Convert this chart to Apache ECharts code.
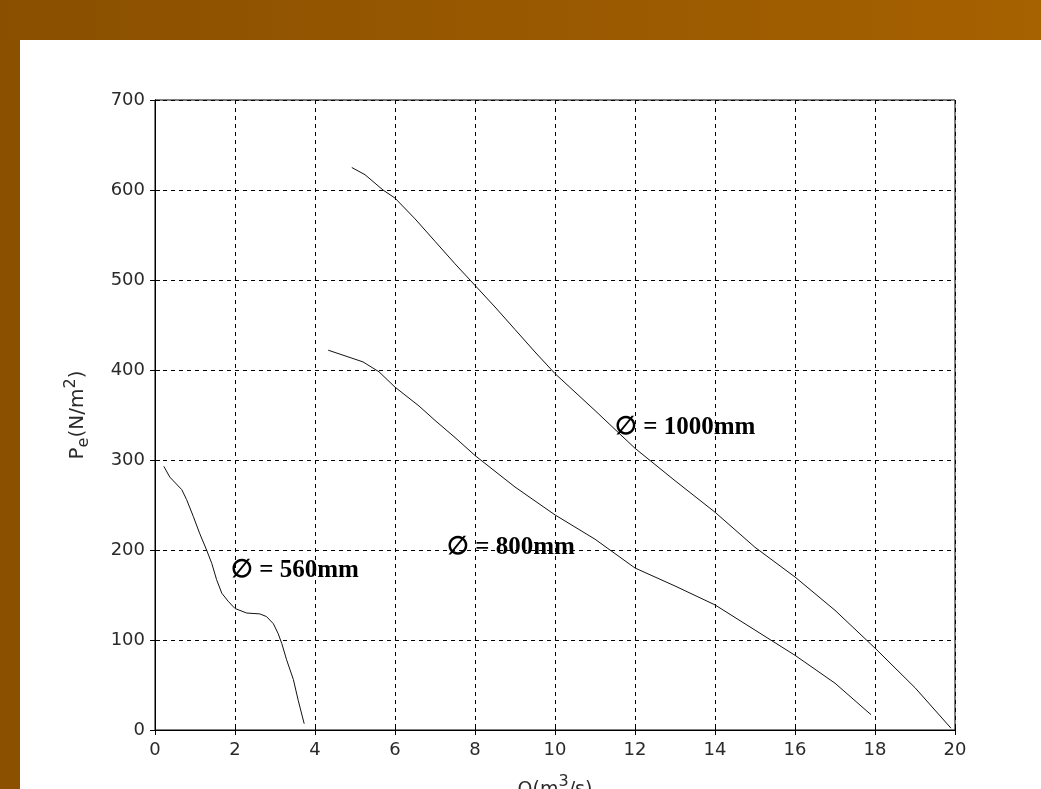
<!DOCTYPE html>
<html>
<head>
<meta charset="utf-8">
<script src="https://cdn.jsdelivr.net/npm/echarts@6/dist/echarts.min.js"></script>
<style>
  html,body{margin:0;padding:0;width:1041px;height:789px;overflow:hidden;background:#fff;}
  #band{position:absolute;left:0;top:0;width:1041px;height:40px;background:linear-gradient(to right,#8a5000,#a66100);}
  #strip{position:absolute;left:0;top:40px;width:20px;height:749px;background:#8b5100;}
  #chart{position:absolute;left:0;top:0;width:1041px;height:789px;}
</style>
</head>
<body>
<div id="band"></div>
<div id="strip"></div>
<div id="chart"></div>
<script>
// Q (m^3/s) and Pe (N/m^2)
const q1000 = [4.92,5.25,5.7,6.0,6.5,7.0,7.5,8.0,8.5,9.0,9.5,10.0,11.0,12.0,13.0,14.0,15.0,16.0,17.0,18.0,19.0,19.9];
const p1000 = [625,617,600,591,568,543,518,494,470,445,420,396,355,313,277,242,203,170,133,91,47,2];

const q800 = [4.33,4.8,5.2,5.6,6.0,6.6,7.0,7.5,8.0,9.0,10.0,11.0,12.0,13.0,14.0,15.0,16.0,17.0,17.9];
const p800 = [422,415,409,398,381,360,344,325,305,270,239,212,180,160,139,111,83,52,17];

const q560 = [0.22,0.37,0.67,0.79,0.96,1.12,1.29,1.42,1.54,1.67,1.83,2.0,2.29,2.62,2.79,2.96,3.08,3.17,3.29,3.46,3.58,3.73];
const p560 = [293,281,267,256,237,218,200,185,167,152,143,135,130,129,126,118,107,96,78,56,33,7];

const xTicks = {min:0, max:20, interval:2};
const yTicks = {min:0, max:700, interval:100};

const labels = [
  {text:'∅ = 1000mm', q:11.5, p:336},
  {text:'∅ = 800mm',  q:7.3, p:203},
  {text:'∅ = 560mm',  q:1.9, p:177}
];

const zip = (a,b)=>a.map((v,i)=>[v,b[i]]);
const lineColor = '#111';

function mk(name, q, p, lab){
  return {
    name, type:'line', data: zip(q,p), showSymbol:false, symbol:'none',
    lineStyle:{color:lineColor, width:1}, silent:true, animation:false,
    markPoint:{
      symbol:'circle', symbolSize:0, silent:true, animation:false,
      data:[{coord:[lab.q, lab.p], value:lab.text}],
      label:{show:true, position:'right', distance:0, formatter:lab.text,
        fontFamily:'Liberation Serif', fontWeight:'bold', fontSize:25, color:'#000'}
    }
  };
}

const chart = echarts.init(document.getElementById('chart'));
const tickFont = {fontFamily:'DejaVu Sans', fontSize:18, color:'#2a2a2a'};
const dashed = {show:true, lineStyle:{color:'#000', type:[4,4], width:1}};
chart.setOption({
  backgroundColor:'transparent',
  animation:false,
  grid:{left:155, right:86, top:100, bottom:59, outerBoundsMode:'none', containLabel:false,
        show:true, borderColor:'#000', borderWidth:1, backgroundColor:'transparent'},
  xAxis:[{
    type:'value', min:xTicks.min, max:xTicks.max, interval:xTicks.interval, position:'bottom',
    axisLine:{show:true, lineStyle:{color:'#000', width:1}},
    axisTick:{show:true, inside:true, length:5, lineStyle:{color:'#000'}},
    axisLabel:{...tickFont, margin:11},
    splitLine:dashed,
    name:'{a|Q(m}{sup|3}{a|/s)}', nameLocation:'middle', nameGap:44,
    nameTextStyle:{rich:{
      a:{fontFamily:'DejaVu Sans', fontSize:19, color:'#2a2a2a'},
      sup:{fontFamily:'DejaVu Sans', fontSize:16, color:'#2a2a2a', padding:[0,0,16,0]}
    }}
  },{
    type:'value', min:xTicks.min, max:xTicks.max, interval:xTicks.interval, position:'top',
    axisLine:{show:true, lineStyle:{color:'#000'}},
    axisTick:{show:true, inside:true, length:5, lineStyle:{color:'#000'}},
    axisLabel:{show:false}, splitLine:{show:false}
  }],
  yAxis:[{
    type:'value', min:yTicks.min, max:yTicks.max, interval:yTicks.interval, position:'left',
    axisLine:{show:true, lineStyle:{color:'#000', width:1}},
    axisTick:{show:true, inside:true, length:5, lineStyle:{color:'#000'}},
    axisLabel:{...tickFont, margin:10},
    splitLine:dashed,
    name:'{a|P}{sub|e}{a|(N/m}{sup|2}{a|)}', nameLocation:'middle', nameGap:62, nameRotate:90,
    nameTextStyle:{rich:{
      a:{fontFamily:'DejaVu Sans', fontSize:20, color:'#2a2a2a'},
      sub:{fontFamily:'DejaVu Sans', fontSize:16, color:'#2a2a2a', padding:[12,0,0,0]},
      sup:{fontFamily:'DejaVu Sans', fontSize:16, color:'#2a2a2a', padding:[0,0,14,0]}
    }}
  },{
    type:'value', min:yTicks.min, max:yTicks.max, interval:yTicks.interval, position:'right',
    axisLine:{show:true, lineStyle:{color:'#000'}},
    axisTick:{show:true, inside:true, length:5, lineStyle:{color:'#000'}},
    axisLabel:{show:false}, splitLine:{show:false}
  }],
  series:[
    mk('1000mm', q1000, p1000, labels[0]),
    mk('800mm', q800, p800, labels[1]),
    mk('560mm', q560, p560, labels[2])
  ]
});
</script>
</body>
</html>
